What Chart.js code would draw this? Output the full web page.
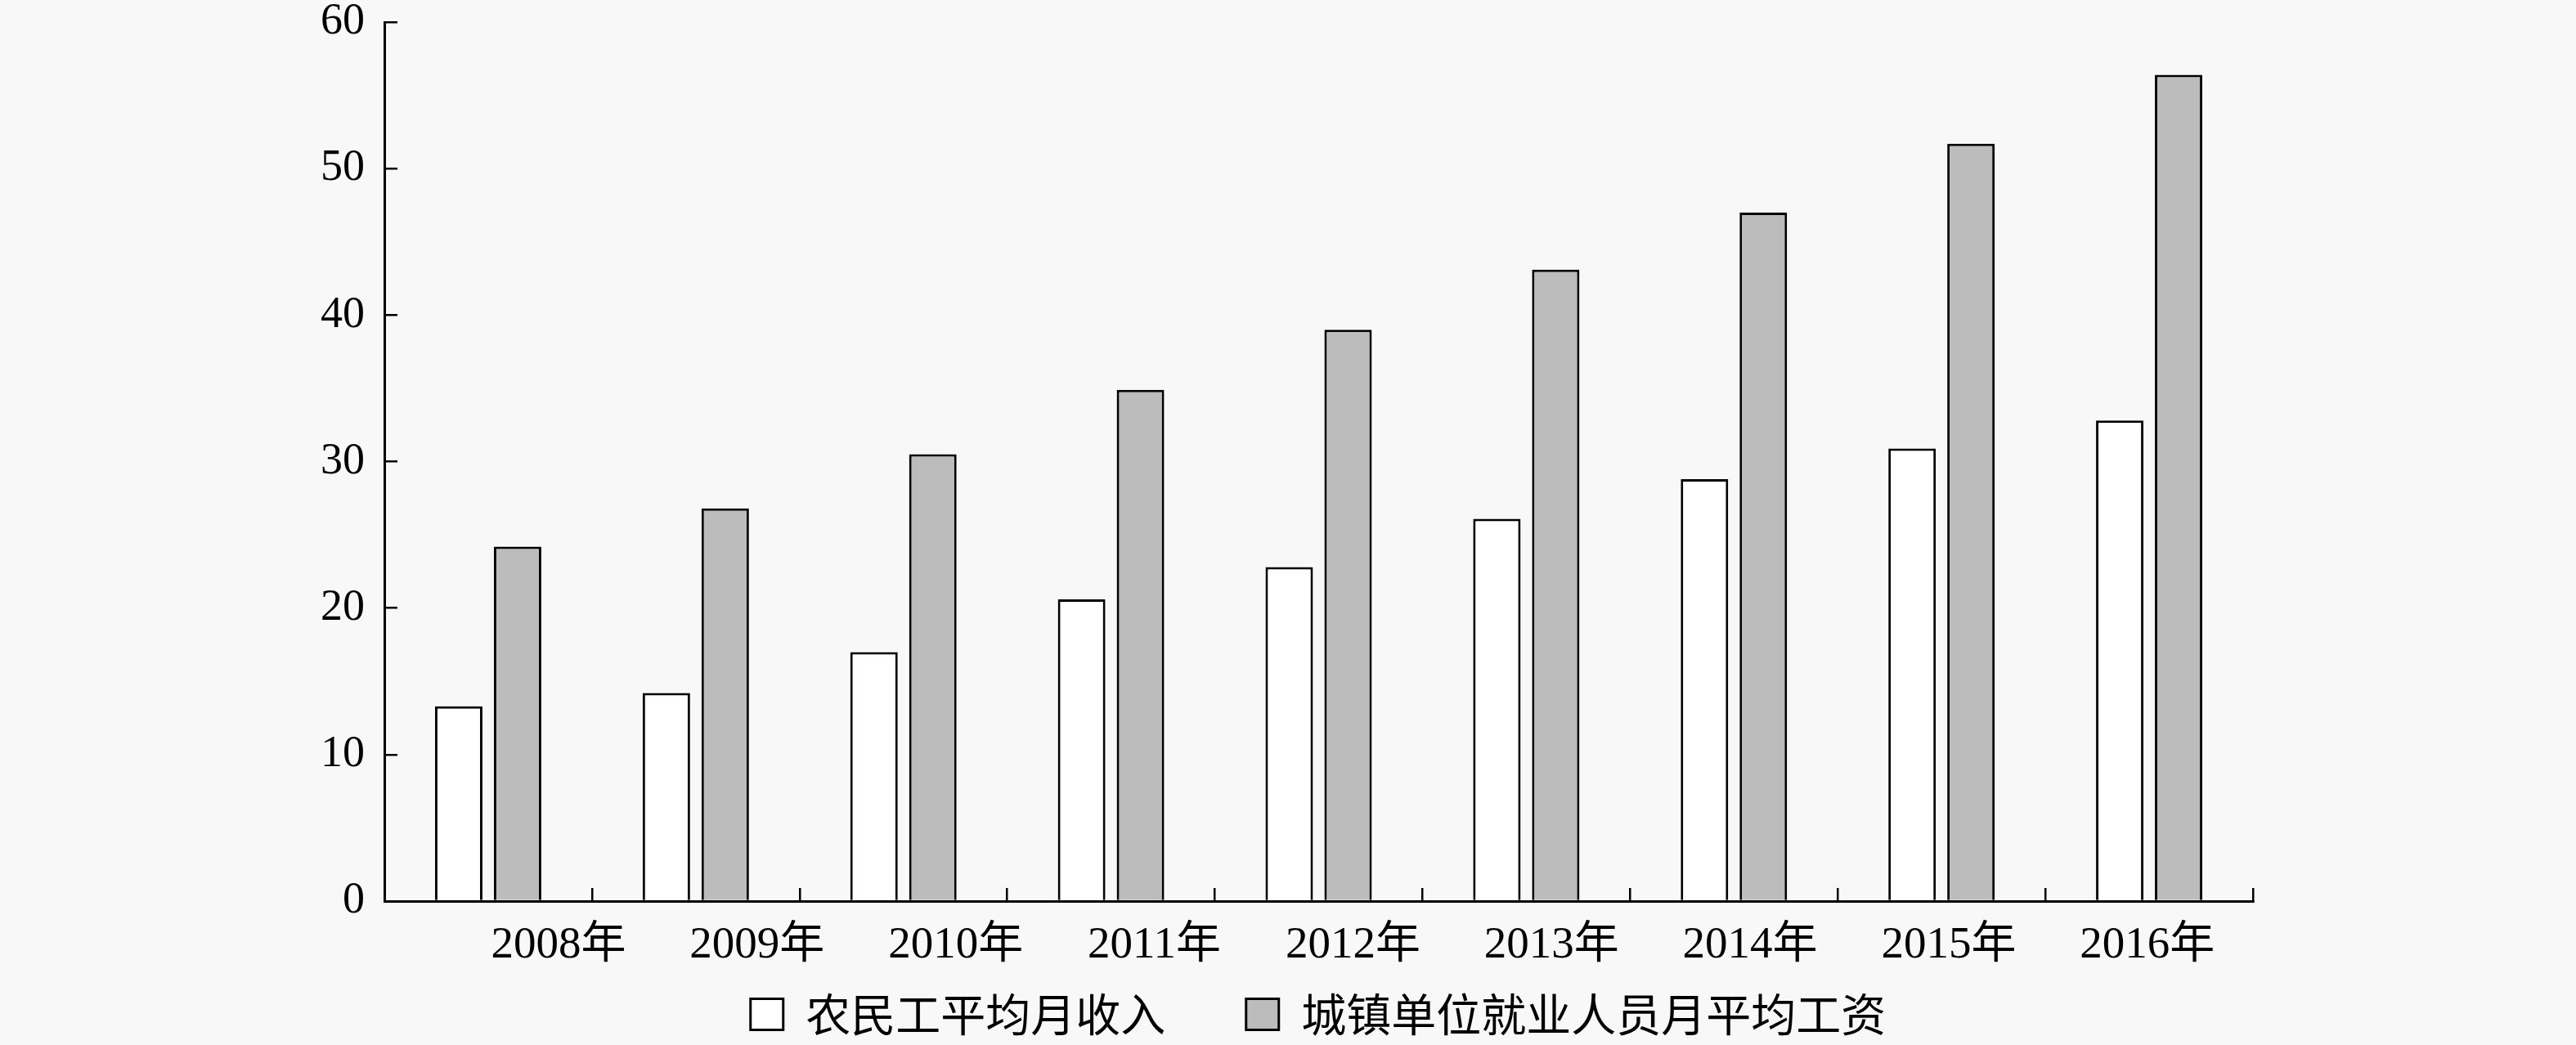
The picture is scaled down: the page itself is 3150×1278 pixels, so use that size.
<!DOCTYPE html>
<html>
<head>
<meta charset="utf-8">
<script src="https://cdn.jsdelivr.net/npm/chart.js@4/dist/chart.umd.min.js"></script>
<style>
  html, body { margin: 0; padding: 0; background: #f8f8f8; }
  #wrap { width: 3150px; height: 1278px; }
</style>
</head>
<body>
<div id="wrap"><canvas id="chart" width="3150" height="1278"></canvas></div>
<script>
const years = ['2008年', '2009年', '2010年', '2011年', '2012年', '2013年', '2014年', '2015年', '2016年'];
const migrantIncome = [13.3, 14.2, 17.0, 20.6, 22.8, 26.1, 28.8, 30.9, 32.8];
const urbanWage = [24.2, 26.8, 30.5, 34.9, 39.0, 43.1, 47.0, 51.7, 56.4];
const yTicks = [0, 10, 20, 30, 40, 50, 60];

const serif = "'Liberation Serif', 'Times New Roman', 'Noto Sans CJK SC', serif";

Chart.defaults.color = '#000';

new Chart(document.getElementById('chart'), {
  type: 'bar',
  data: {
    labels: years,
    datasets: [{
      label: '农民工平均月收入',
      data: migrantIncome,
      backgroundColor: '#ffffff',
      borderColor: '#000',
      borderWidth: 3,
      categoryPercentage: 0.567,
      barPercentage: 0.806
    }, {
      label: '城镇单位就业人员月平均工资',
      data: urbanWage,
      backgroundColor: '#bcbcbc',
      borderColor: '#000',
      borderWidth: 3,
      categoryPercentage: 0.567,
      barPercentage: 0.806
    }]
  },
  options: {
    responsive: false,
    devicePixelRatio: 1,
    animation: false,
    layout: {
      padding: { left: 74, right: 0, top: 0, bottom: 0 }
    },
    scales: {
      x: {
        weight: 0,
        grid: {
          drawOnChartArea: false,
          offset: true,
          tickLength: -16,
          color: '#000',
          lineWidth: 2.5
        },
        border: { color: '#000', width: 3 },
        ticks: { display: false },
        afterFit: (scale) => { scale.height = 0; }
      },
      // year labels sit on their own axis, the source spaces them a bit tighter than the bars
      xLabels: {
        type: 'linear',
        position: 'bottom',
        weight: 1,
        offset: false,
        bounds: 'data',
        min: -0.877,
        max: 8.532,
        afterBuildTicks: (scale) => { scale.ticks = years.map((y, i) => ({ value: i })); },
        grid: { display: false, drawTicks: false, offset: false },
        border: { display: false },
        ticks: {
          autoSkip: false,
          maxRotation: 0,
          padding: 22,
          font: { family: serif, size: 55 },
          callback: (v, i) => years[i]
        },
        afterFit: (scale) => { scale.height = 95; }
      },
      y: {
        min: 0,
        max: 60,
        afterBuildTicks: (scale) => { scale.ticks = yTicks.map(v => ({ value: v })); },
        grid: {
          drawOnChartArea: false,
          tickLength: -16,
          color: '#000',
          lineWidth: 2.5
        },
        border: { color: '#000', width: 3 },
        ticks: {
          padding: 40,
          font: { family: serif, size: 54 }
        },
        afterFit: (scale) => {
          scale.width = 396;
          scale.paddingTop = 27;
          scale.paddingBottom = 0;
        }
      },
      yRight: {
        type: 'linear',
        position: 'right',
        grid: { display: false, drawTicks: false },
        border: { display: false },
        ticks: { display: false },
        afterFit: (scale) => { scale.width = 395; }
      }
    },
    plugins: {
      legend: {
        position: 'bottom',
        labels: {
          boxWidth: 40,
          boxHeight: 38,
          padding: 16,
          font: { family: "'Noto Sans CJK SC', serif", size: 55 },
          color: '#000',
          generateLabels: (chart) => {
            const items = Chart.defaults.plugins.legend.labels.generateLabels(chart);
            items[0].text += '\u2002\u2002\u2002';
            return items;
          }
        }
      },
      tooltip: { enabled: false }
    }
  }
});
</script>
</body>
</html>
